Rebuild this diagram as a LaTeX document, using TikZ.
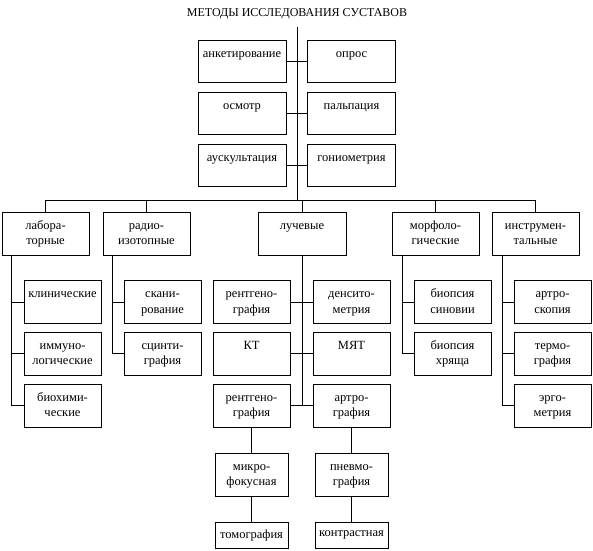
\documentclass[tikz,border=0pt]{standalone}
\usepackage{fontspec}
\setmainfont{Liberation Serif}
\newcommand\bxfont{\fontsize{12.5}{15.5}\selectfont}
\tikzset{
  box/.style={draw,line width=0.8pt,minimum width=77pt,minimum height=43pt,inner sep=0pt,font=\bxfont},
  lbl/.style={anchor=north,align=center,inner sep=0pt,yshift=-6.6pt,font=\bxfont},
  ln/.style={line width=0.8pt},
}
\begin{document}
\begin{tikzpicture}[x=1pt,y=-1pt,line cap=rect,line join=miter]
  \useasboundingbox (0,0) rectangle (593,550);
  \node[font=\fontsize{12}{14}\selectfont] (title) at (297,14) {МЕТОДЫ ИССЛЕДОВАНИЯ СУСТАВОВ};
  \coordinate (top) at (297,27);
  \coordinate (bar) at (297,200);
  \node[box,minimum width=88pt,minimum height=42pt,label={[lbl]north:\strut анкетирование}] (anket) at (242,61.5) {};
  \node[box,minimum width=88pt,minimum height=42pt,label={[lbl]north:\strut опрос}] (opros) at (351.5,61.5) {};
  \node[box,minimum width=88pt,minimum height=42pt,label={[lbl]north:\strut осмотр}] (osmotr) at (242,113.5) {};
  \node[box,minimum width=88pt,minimum height=42pt,label={[lbl]north:\strut пальпация}] (palp) at (351.5,113.5) {};
  \node[box,minimum width=88pt,minimum height=42pt,label={[lbl]north:\strut аускультация}] (ausk) at (242,165) {};
  \node[box,minimum width=88pt,minimum height=42pt,label={[lbl]north:\strut гониометрия}] (gonio) at (351.5,165) {};
  \draw[ln] (top) -- (bar);
  \foreach \a/\b in {anket/opros,osmotr/palp,ausk/gonio} \draw[ln] (\a) -- (\b);
  \node[box,minimum width=87pt,label={[lbl]north:\strut лабора-\\торные}] (lab) at (45.5,233.5) {};
  \node[box,minimum width=87pt,label={[lbl]north:\strut радио-\\изотопные}] (radio) at (146.5,233.5) {};
  \node[box,minimum width=88pt,label={[lbl]north:\strut лучевые}] (luch) at (302,233.5) {};
  \node[box,minimum width=87pt,label={[lbl]north:\strut морфоло-\\гические}] (morph) at (435.5,233.5) {};
  \node[box,minimum width=87pt,label={[lbl]north:\strut инструмен-\\тальные}] (instr) at (535.5,233.5) {};
  \draw[ln] (lab.north) -- (lab.north |- bar) -- (instr.north |- bar) -- (instr.north);
  \foreach \n in {radio,luch,morph} \draw[ln] (\n.north) -- (\n.north |- bar);
  \node[box,label={[lbl]north:\strut клинические}] (klin) at (62.5,302) {};
  \node[box,label={[lbl]north:\strut иммуно-\\логические}] (immun) at (62.5,353.5) {};
  \node[box,label={[lbl]north:\strut биохими-\\ческие}] (bioch) at (62.5,405.5) {};
  \node[box,label={[lbl]north:\strut скани-\\рование}] (scan) at (162.5,302) {};
  \node[box,label={[lbl]north:\strut сцинти-\\графия}] (scint) at (162.5,353.5) {};
  \node[box,label={[lbl]north:\strut рентгено-\\графия}] (rg1) at (251.5,302) {};
  \node[box,label={[lbl]north:\strut денсито-\\метрия}] (dens) at (351.5,302) {};
  \node[box,label={[lbl]north:\strut КТ}] (kt) at (251.5,353.5) {};
  \node[box,label={[lbl]north:\strut МЯТ}] (myat) at (351.5,353.5) {};
  \node[box,label={[lbl]north:\strut рентгено-\\графия}] (rg2) at (251.5,405.5) {};
  \node[box,label={[lbl]north:\strut артро-\\графия}] (artro) at (351.5,405.5) {};
  \node[box,label={[lbl]north:\strut биопсия\\синовии}] (bsin) at (452.5,302) {};
  \node[box,label={[lbl]north:\strut биопсия\\хряща}] (bhr) at (452.5,353.5) {};
  \node[box,label={[lbl]north:\strut артро-\\скопия}] (arsk) at (552.5,302) {};
  \node[box,label={[lbl]north:\strut термо-\\графия}] (term) at (552.5,353.5) {};
  \node[box,label={[lbl]north:\strut эрго-\\метрия}] (ergo) at (552.5,405.5) {};
  \coordinate (labsp) at ([xshift=10pt]lab.south west);
  \coordinate (radsp) at ([xshift=10pt]radio.south west);
  \coordinate (morsp) at ([xshift=11pt]morph.south west);
  \coordinate (inssp) at ([xshift=11pt]instr.south west);
  \draw[ln] (labsp) |- (bioch.west);
  \draw[ln] (radsp) |- (scint.west);
  \draw[ln] (morsp) |- (bhr.west);
  \draw[ln] (inssp) |- (ergo.west);
  \foreach \n in {klin,immun} \draw[ln] (\n.west) -- (\n.west -| labsp);
  \draw[ln] (scan.west) -- (scan.west -| radsp);
  \draw[ln] (bsin.west) -- (bsin.west -| morsp);
  \foreach \n in {arsk,term} \draw[ln] (\n.west) -- (\n.west -| inssp);
  \draw[ln] (luch.south) -- (luch.south |- rg2.east);
  \foreach \a/\b in {rg1/dens,kt/myat,rg2/artro} \draw[ln] (\a) -- (\b);
  \node[box,minimum width=73pt,label={[lbl]north:\strut микро-\\фокусная}] (micro) at (251.5,474.5) {};
  \node[box,minimum width=73pt,label={[lbl]north:\strut пневмо-\\графия}] (pneumo) at (351.5,474.5) {};
  \node[box,minimum width=73pt,minimum height=26pt] (tomo) at (251.5,535) {томография};
  \node[box,minimum width=73pt,minimum height=26pt] (contr) at (351.5,535) {контрастная};
  \draw[ln] (rg2) -- (micro) -- (tomo);
  \draw[ln] (artro) -- (pneumo) -- (contr);
\end{tikzpicture}
\end{document}
